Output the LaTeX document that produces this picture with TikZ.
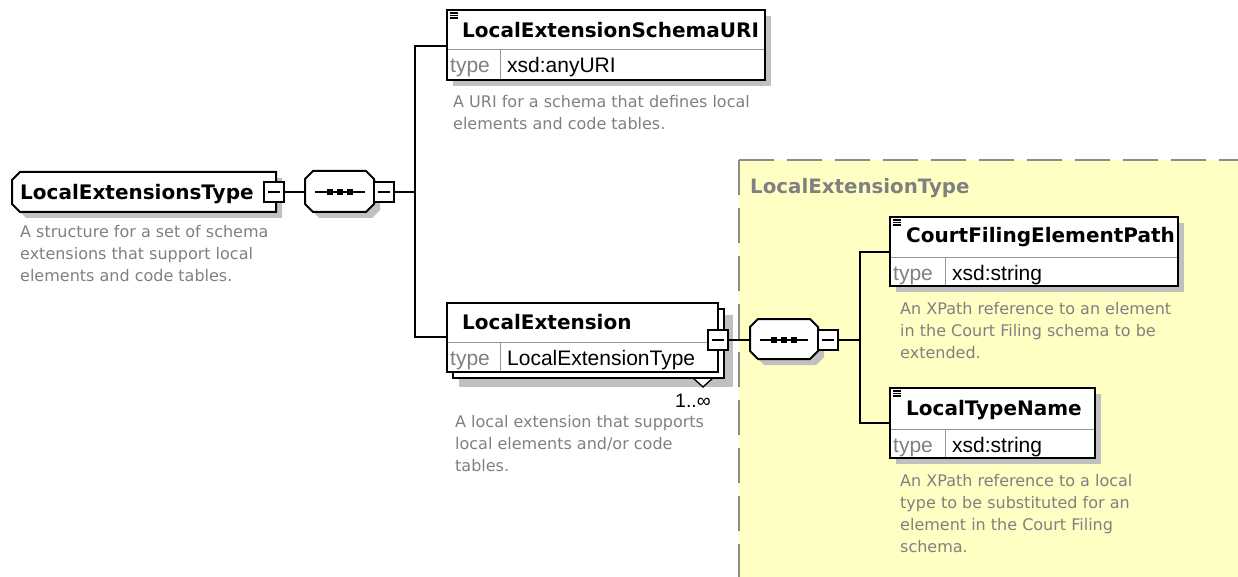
\documentclass[tikz,border=0pt]{standalone}
\usepackage{fontspec}
\setmainfont{DejaVu Sans}
\newfontfamily\typefont{Liberation Sans}
\usetikzlibrary{calc}
\definecolor{shadowgray}{RGB}{192,192,192}
\definecolor{descgray}{RGB}{128,128,128}
\definecolor{pale}{RGB}{255,255,196}
\definecolor{dashgray}{RGB}{140,140,140}
\definecolor{cellgray}{RGB}{150,150,150}
\tikzset{
  boxline/.style={draw=black, line width=2pt},
  conn/.style={draw=black, line width=2pt},
  cellline/.style={draw=cellgray, line width=1pt},
  elbox/.style={boxline, fill=white, anchor=north west, inner sep=0pt, outer sep=0pt},
  hook/.style={inner sep=0pt, outer sep=0pt},
  nametext/.style={anchor=base west, inner sep=0pt, font=\fontsize{20}{20}\selectfont\bfseries},
  typelabel/.style={anchor=base west, inner sep=0pt, text=descgray, font=\typefont\fontsize{21}{21}\selectfont},
  typevalue/.style={anchor=base west, inner sep=0pt, font=\typefont\fontsize{21}{21}\selectfont},
  desc/.style={anchor=north west, inner sep=0pt, align=left, text=descgray, font=\fontsize{16}{22}\selectfont},
  minusbox/.style={draw=black, line width=2pt, fill=white, minimum size=20pt, inner sep=0pt, outer sep=0pt,
    path picture={\draw[line width=1.6pt] ($(path picture bounding box.center)+(-6pt,0pt)$) -- ($(path picture bounding box.center)+(6pt,0pt)$);}},
  dotline/.style={draw=black, line width=1.6pt},
  icon/.style={draw=black, line width=1.2pt},
}
\begin{document}
\begin{tikzpicture}[x=1pt,y=-1pt]
\useasboundingbox (0,0) rectangle (1238,577);
% ---------- yellow complex type area
\fill[pale] (739,160) rectangle (1238,577);
\draw[dashgray, line width=2pt, dash pattern=on 35pt off 13pt] (739,160) -- (1238,160);
\draw[dashgray, line width=2pt, dash pattern=on 35pt off 13pt] (739,160) -- (739,577);
\node[anchor=base west, inner sep=0pt, text=descgray, font=\fontsize{19.8}{20}\selectfont\bfseries] (ltTitle) at (750,194) {LocalExtensionType};

% ---------- named hooks for connectors
\coordinate (bar1Top) at (415,46);
\coordinate (bar1Mid) at (415,192);
\coordinate (bar1Bot) at (415,337);
\coordinate (bar2Top) at (860,252);
\coordinate (bar2Mid) at (860,340);
\coordinate (bar2Bot) at (860,423);

% ---------- root element
\fill[shadowgray] (26,178) -- (282,178) -- (282,218) -- (26,218) -- (18,210) -- (18,186) -- cycle;
\draw[boxline, fill=white] (20,172) -- (276,172) -- (276,212) -- (20,212) -- (12,204) -- (12,180) -- cycle;
\node[hook, minimum width=264pt, minimum height=40pt, anchor=north west] (root) at (12,172) {};
\node[nametext] (rootName) at (20,199.5) {LocalExtensionsType};
\node[minusbox] (rootMinus) at (274,192) {};
\node[desc] (rootDesc) at (20,225) {A structure for a set of schema\\extensions that support local\\elements and code tables.};

% ---------- sequence 1
\fill[shadowgray] (319,177) -- (372,177) -- (380,185) -- (380,210) -- (372,218) -- (319,218) -- (311,210) -- (311,185) -- cycle;
\draw[boxline, fill=white] (313,171) -- (366,171) -- (374,179) -- (374,204) -- (366,212) -- (313,212) -- (305,204) -- (305,179) -- cycle;
\node[hook, minimum width=69pt, minimum height=41pt] (seq1) at (339.5,192) {};
\draw[dotline] (315,192) -- (365,192);
\fill (327,189) rectangle (333,195);
\fill (337,189) rectangle (343,195);
\fill (347,189) rectangle (353,195);
\node[minusbox] (seq1Minus) at (384,192) {};

% ---------- element LocalExtensionSchemaURI
\fill[shadowgray] (453,16) rectangle (771,86);
\node[elbox, minimum width=318pt, minimum height=70pt] (uriBox) at (447,10) {};
\draw[cellline] (448,50) -- (764,50);
\draw[cellline] (500,50) -- (500,79);
\draw[icon] (450,13) -- (458,13) (450,15.5) -- (458,15.5) (450,18) -- (458,18);
\node[nametext] (uriName) at (462,38) {LocalExtensionSchemaURI};
\node[typelabel] (uriType) at (450,73) {type};
\node[typevalue] (uriVal) at (507,73) {xsd:anyURI};
\node[desc] (uriDesc) at (453,95) {A URI for a schema that defines local\\elements and code tables.};

% ---------- element LocalExtension (1..unbounded)
\fill[shadowgray] (459,315) rectangle (733,387);
\draw[boxline, fill=white] (453,309) rectangle (724,378);
\node[elbox, minimum width=271pt, minimum height=69pt] (leBox) at (447,303) {};
\draw[cellline] (448,342) -- (717,342);
\draw[cellline] (500,342) -- (500,371);
\node[nametext] (leName) at (462,329) {LocalExtension};
\node[typelabel] (leType) at (450,365.5) {type};
\node[typevalue] (leVal) at (507,365.5) {LocalExtensionType};
\fill[white] (693,379) -- (703,388) -- (713,379) -- cycle;
\draw[line width=1.4pt] (693,378) -- (703,387) -- (713,378);
\node[anchor=base east, inner sep=0pt, font=\typefont\fontsize{19.5}{20}\selectfont] (leCard) at (711,407) {1..∞};
\node[minusbox] (leMinus) at (718,340) {};
\node[desc] (leDesc) at (455,415) {A local extension that supports\\local elements and/or code\\tables.};

% ---------- sequence 2
\fill[shadowgray] (764,325) -- (816,325) -- (824,333) -- (824,357) -- (816,365) -- (764,365) -- (756,357) -- (756,333) -- cycle;
\draw[boxline, fill=white] (758,319) -- (810,319) -- (818,327) -- (818,351) -- (810,359) -- (758,359) -- (750,351) -- (750,327) -- cycle;
\node[hook, minimum width=68pt, minimum height=40pt] (seq2) at (784,340) {};
\draw[dotline] (760,340) -- (808,340);
\fill (771,337) rectangle (777,343);
\fill (781,337) rectangle (787,343);
\fill (791,337) rectangle (797,343);
\node[minusbox] (seq2Minus) at (828,340) {};

% ---------- element CourtFilingElementPath
\fill[shadowgray] (896,223) rectangle (1184,292);
\node[elbox, minimum width=288pt, minimum height=69pt] (cfBox) at (890,217) {};
\draw[cellline] (891,257) -- (1177,257);
\draw[cellline] (945,257) -- (945,285);
\draw[icon] (893,220) -- (901,220) (893,222.5) -- (901,222.5) (893,225) -- (901,225);
\node[nametext] (cfName) at (906,243) {CourtFilingElementPath};
\node[typelabel] (cfType) at (893,280) {type};
\node[typevalue] (cfVal) at (952,280) {xsd:string};
\node[desc] (cfDesc) at (900,302) {An XPath reference to an element\\in the Court Filing schema to be\\extended.};

% ---------- element LocalTypeName
\fill[shadowgray] (896,394) rectangle (1101,464);
\node[elbox, minimum width=205pt, minimum height=70pt] (ltnBox) at (890,388) {};
\draw[cellline] (891,429) -- (1094,429);
\draw[cellline] (945,429) -- (945,457);
\draw[icon] (893,391) -- (901,391) (893,393.5) -- (901,393.5) (893,396) -- (901,396);
\node[nametext] (ltnName) at (906,415) {LocalTypeName};
\node[typelabel] (ltnType) at (893,452) {type};
\node[typevalue] (ltnVal) at (952,452) {xsd:string};
\node[desc] (ltnDesc) at (900,474) {An XPath reference to a local\\type to be substituted for an\\element in the Court Filing\\schema.};

% ---------- connectors
\draw[conn] (rootMinus.east) -- (seq1.west);
\draw[conn] (seq1Minus.east) -- (bar1Mid);
\draw[conn] (uriBox.west |- bar1Top) -- (bar1Top) -- (bar1Bot) -- (leBox.west |- bar1Bot);
\draw[conn] (leMinus.east) -- (seq2.west);
\draw[conn] (seq2Minus.east) -- (bar2Mid);
\draw[conn] (cfBox.west |- bar2Top) -- (bar2Top) -- (bar2Bot) -- (ltnBox.west |- bar2Bot);
\end{tikzpicture}
\end{document}
